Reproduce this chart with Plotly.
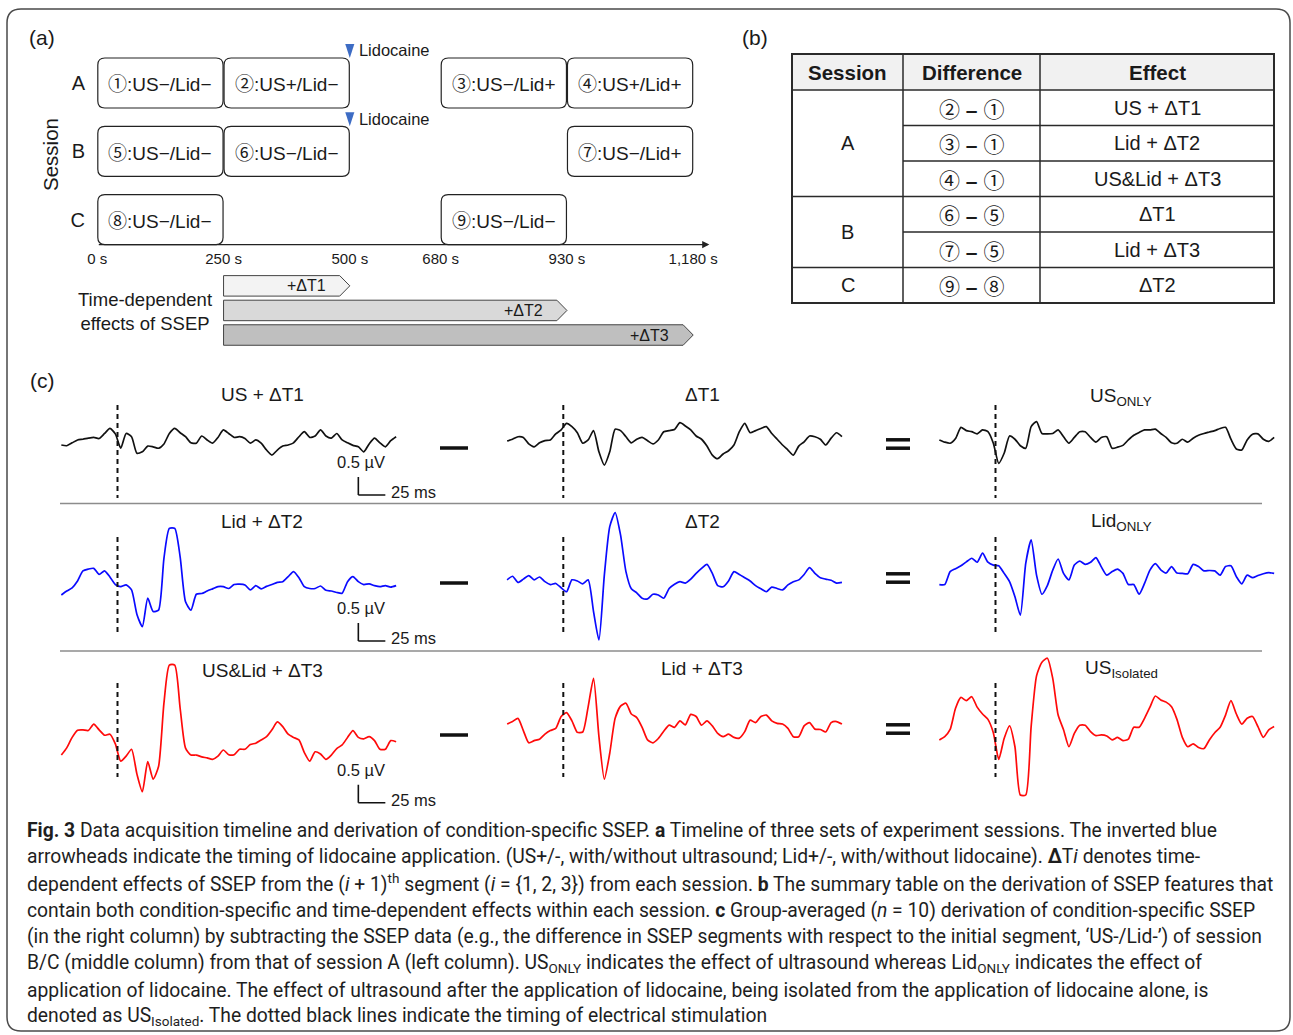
import numpy as np
import plotly.graph_objects as go

W, H = 1293, 1035
FONT = "Liberation Sans, Arial, DejaVu Sans, sans-serif"
CJK = "Noto Sans CJK JP"
CAPTION_FONT = "Roboto, Noto Sans, sans-serif"

# ---------------- (a) acquisition timeline ----------------
SESSIONS = ["A", "B", "C"]
SEG_SESSION = ["A", "A", "A", "A", "B", "B", "B", "C", "C"]
SEG_NUM = ["①", "②", "③", "④", "⑤", "⑥", "⑦", "⑧", "⑨"]
SEG_COND = ["US−/Lid−", "US+/Lid−", "US−/Lid+", "US+/Lid+",
            "US−/Lid−", "US−/Lid−", "US−/Lid+",
            "US−/Lid−", "US−/Lid−"]
SEG_START = [0, 250, 680, 930, 0, 250, 930, 0, 680]
SEG_END = [250, 500, 930, 1180, 250, 500, 1180, 250, 930]
TIME_TICKS = [0, 250, 500, 680, 930, 1180]
TIME_TICK_TEXT = ["0 s", "250 s", "500 s", "680 s", "930 s", "1,180 s"]
LIDOCAINE_T = 500
LIDOCAINE_SESSIONS = ["A", "B"]
DRIFT_LABEL = ["+ΔT1", "+ΔT2", "+ΔT3"]
DRIFT_START = 250
DRIFT_END = [500, 930, 1180]
DRIFT_FILL = ["#f3f3f3", "#d9d9d9", "#bfbfbf"]

# ---------------- (b) summary table ----------------
TABLE_HEADER = ["Session", "Difference", "Effect"]
TABLE_SESSION = ["A", "A", "A", "B", "B", "C"]
TABLE_DIFF = [("②", "①"), ("③", "①"), ("④", "①"), ("⑥", "⑤"), ("⑦", "⑤"), ("⑨", "⑧")]
TABLE_EFFECT = ["US + ΔT1", "Lid + ΔT2", "US&amp;Lid + ΔT3", "ΔT1", "Lid + ΔT3", "ΔT2"]

# ---------------- (c) group-averaged SSEP (µV), -52 .. 258 ms ----------------
T_START, T_END = -52, 258
US_DT1 = [0.00, -0.02, 0.06, 0.14, 0.16, 0.19, 0.21, 0.18, 0.32, 0.46,
          0.31, -0.09, 0.32, 0.23, -0.23, -0.19, -0.03, -0.05, -0.09, 0.03,
          0.32, 0.46, 0.34, 0.23, 0.06, 0.05, 0.25, 0.14, 0.05, 0.21,
          0.42, 0.32, 0.21, 0.23, 0.18, 0.05, 0.14, 0.05, -0.14, -0.28,
          -0.14, -0.03, 0.00, 0.06, 0.23, 0.37, 0.21, 0.25, 0.42, 0.25,
          0.19, 0.32, 0.14, 0.06, -0.01, -0.05, -0.19, 0.03, 0.19, 0.06,
          -0.05, 0.12, 0.23]
DT1 = [0.11, 0.16, 0.23, 0.21, 0.03, -0.05, 0.06, 0.12, 0.14, 0.31,
       0.42, 0.60, 0.51, 0.34, 0.05, 0.14, 0.40, -0.19, -0.56, -0.19,
       0.44, 0.40, 0.23, 0.06, 0.16, 0.21, 0.12, 0.03, 0.14, 0.37,
       0.40, 0.43, 0.62, 0.53, 0.42, 0.25, 0.16, -0.03, -0.28, -0.38,
       -0.25, -0.16, 0.00, 0.37, 0.60, 0.34, 0.40, 0.46, 0.51, 0.32,
       0.16, 0.00, -0.14, -0.28, -0.03, 0.09, 0.25, 0.23, 0.16, 0.00,
       0.19, 0.34, 0.23]
US_ONLY = [0.14, 0.08, 0.05, 0.18, 0.49, 0.40, 0.37, 0.31, 0.42, 0.37,
           0.05, -0.51, -0.23, 0.25, 0.16, -0.02, -0.09, 0.51, 0.65, 0.32,
           0.31, 0.32, 0.42, 0.23, 0.05, 0.21, 0.37, 0.37, 0.21, 0.08,
           0.21, 0.23, -0.09, -0.06, -0.01, 0.14, 0.27, 0.35, 0.42, 0.42,
           0.44, 0.32, 0.21, 0.06, 0.05, 0.16, 0.08, 0.19, 0.27, 0.32,
           0.36, 0.40, 0.46, 0.49, 0.16, -0.11, -0.14, 0.14, 0.30, 0.31,
           0.16, 0.10, 0.21]
LID_DT2 = [-0.23, -0.12, -0.03, 0.16, 0.44, 0.49, 0.51, 0.34, 0.44, 0.27,
           0.06, 0.00, 0.05, -0.09, -0.77, -1.11, -0.32, -0.69, -0.65, 0.79,
           1.62, 1.62, 0.83, -0.42, -0.65, -0.21, -0.19, -0.12, -0.06, 0.00,
           0.00, -0.05, 0.06, 0.07, 0.05, -0.09, 0.03, -0.06, 0.01, 0.06,
           0.12, 0.14, 0.28, 0.42, 0.25, 0.00, -0.05, -0.05, 0.02, -0.10,
           -0.12, -0.16, -0.18, 0.14, 0.28, 0.14, 0.06, 0.08, 0.03, 0.00,
           0.03, -0.01, 0.03]
DT2 = [0.19, 0.29, 0.12, 0.21, 0.31, 0.19, 0.27, 0.14, 0.06, 0.09,
       -0.03, -0.14, 0.19, 0.16, 0.08, 0.19, -0.69, -1.48, 0.32, 1.67,
       2.06, 1.44, 0.42, -0.06, -0.17, -0.32, -0.34, -0.21, -0.23, -0.32,
       -0.05, 0.07, 0.14, 0.10, 0.21, 0.37, 0.51, 0.62, 0.37, 0.03,
       0.00, 0.16, 0.42, 0.34, 0.25, 0.16, 0.03, -0.06, -0.14, -0.01,
       -0.05, -0.09, 0.05, 0.14, 0.19, 0.34, 0.53, 0.37, 0.25, 0.21,
       0.18, 0.10, 0.12]
LID_ONLY = [0.06, 0.06, 0.42, 0.50, 0.58, 0.69, 0.79, 0.68, 0.93, 0.68,
            0.60, 0.58, 0.37, 0.14, -0.28, -0.79, 0.65, 1.30, 0.32, -0.21,
            0.03, 0.46, 0.77, 0.37, 0.19, 0.60, 0.71, 0.62, 0.68, 0.81,
            0.55, 0.32, 0.42, 0.49, 0.37, 0.06, 0.06, -0.21, 0.09, 0.46,
            0.64, 0.47, 0.38, 0.56, 0.38, 0.37, 0.36, 0.62, 0.56, 0.44,
            0.45, 0.44, 0.32, 0.56, 0.58, 0.28, 0.08, 0.32, 0.25, 0.31,
            0.36, 0.39, 0.37]
USLID_DT3 = [-0.14, 0.06, 0.35, 0.55, 0.56, 0.54, 0.72, 0.56, 0.41, 0.44,
             0.17, -0.31, -0.17, 0.02, -0.67, -1.16, -0.32, -0.81, -0.46, 1.30,
             2.36, 2.36, 1.16, 0.05, -0.14, -0.14, -0.19, -0.22, -0.26, -0.17,
             0.00, -0.13, -0.13, 0.02, 0.02, 0.15, 0.19, 0.28, 0.37, 0.56,
             0.78, 0.65, 0.44, 0.35, 0.28, -0.07, -0.31, -0.05, -0.11, -0.26,
             -0.14, 0.04, 0.14, 0.35, 0.54, 0.35, 0.31, 0.37, 0.26, 0.02,
             0.02, 0.26, 0.23]
LID_DT3 = [0.72, 0.79, 0.88, 0.54, 0.20, 0.26, 0.30, 0.44, 0.54, 0.60,
           0.93, 1.04, 0.81, 0.49, 0.50, 1.20, 1.99, 0.37, -0.81, -0.09,
           0.88, 1.22, 1.30, 1.00, 0.90, 0.63, 0.28, 0.20, 0.32, 0.52,
           0.69, 0.63, 0.81, 0.70, 0.99, 0.93, 0.69, 0.81, 0.67, 0.46,
           0.37, 0.44, 0.35, 0.33, 0.51, 0.83, 0.76, 0.93, 0.97, 0.81,
           0.74, 0.72, 0.60, 0.37, 0.37, 0.67, 0.76, 0.58, 0.57, 0.50,
           0.76, 0.79, 0.72]
US_ISOLATED = [0.28, 0.37, 0.57, 1.16, 1.46, 1.37, 1.48, 1.19, 1.00, 0.85,
               0.48, -0.26, 0.32, 0.67, 0.09, -1.25, -1.25, 0.65, 2.06, 2.44,
               2.55, 1.99, 0.97, 0.56, 0.09, 0.46, 0.69, 0.69, 0.51, 0.40,
               0.42, 0.39, 0.28, 0.35, 0.26, 0.30, 0.63, 0.63, 0.88, 1.19,
               1.50, 1.39, 1.33, 1.20, 0.85, 0.35, 0.09, 0.17, 0.07, 0.04,
               0.28, 0.48, 0.63, 0.97, 1.37, 1.00, 0.72, 0.88, 0.93, 0.65,
               0.35, 0.56, 0.65]

WAVES = [[US_DT1, DT1, US_ONLY],
         [LID_DT2, DT2, LID_ONLY],
         [USLID_DT3, LID_DT3, US_ISOLATED]]
WAVE_TITLES = [["US + ΔT1", "ΔT1", "US<sub>ONLY</sub>"],
               ["Lid + ΔT2", "ΔT2", "Lid<sub>ONLY</sub>"],
               ["US&amp;Lid + ΔT3", "Lid + ΔT3", "US<sub>Isolated</sub>"]]
ROW_COLOR = ["#111111", "#0a0aff", "#ff0a0a"]
SCALE_UV = 0.5
SCALE_MS = 25

CAPTION = [
    "<b>Fig. 3</b> Data acquisition timeline and derivation of condition-specific SSEP. <b>a</b> Timeline of three sets of experiment sessions. The inverted blue",
    "arrowheads indicate the timing of lidocaine application. (US+/-, with/without ultrasound; Lid+/-, with/without lidocaine). <b>Δ</b>T<i>i</i> denotes time-",
    "dependent effects of SSEP from the (<i>i</i> + 1)<sup>th</sup> segment (<i>i</i> = {1, 2, 3}) from each session. <b>b</b> The summary table on the derivation of SSEP features that",
    "contain both condition-specific and time-dependent effects within each session. <b>c</b> Group-averaged (<i>n</i> = 10) derivation of condition-specific SSEP",
    "(in the right column) by subtracting the SSEP data (e.g., the difference in SSEP segments with respect to the initial segment, ‘US-/Lid-’) of session",
    "B/C (middle column) from that of session A (left column). US<sub>ONLY</sub> indicates the effect of ultrasound whereas Lid<sub>ONLY</sub> indicates the effect of",
    "application of lidocaine. The effect of ultrasound after the application of lidocaine, being isolated from the application of lidocaine alone, is",
    "denoted as US<sub>Isolated</sub>. The dotted black lines indicate the timing of electrical stimulation",
]


# ---------------- helpers ----------------
def px(x):
    return x / W


def py(y):
    return 1 - y / H


def circled(ch, size):
    return f'<span style="font-family:{CJK};font-size:{size}px">{ch}</span>'


def rounded_path(x0, y0, x1, y1, rx, ry):
    return (f"M {x0 + rx},{y0} L {x1 - rx},{y0} Q {x1},{y0} {x1},{y0 + ry} "
            f"L {x1},{y1 - ry} Q {x1},{y1} {x1 - rx},{y1} L {x0 + rx},{y1} "
            f"Q {x0},{y1} {x0},{y1 - ry} L {x0},{y0 + ry} Q {x0},{y0} {x0 + rx},{y0} Z")


fig = go.Figure()
layout = {}
shapes = []
annotations = []


def text(x, y, s, size=18, xanchor="center", yanchor="middle", family=FONT,
         color="#1a1a1a", **kw):
    annotations.append(dict(x=px(x), y=py(y), xref="paper", yref="paper", text=s,
                            showarrow=False, xanchor=xanchor, yanchor=yanchor,
                            font=dict(family=family, size=size, color=color), **kw))


# outer frame
shapes.append(dict(type="path", xref="paper", yref="paper",
                   path=rounded_path(px(7), py(9), px(1290), py(1031), px(14), -14 / H),
                   line=dict(color="#4a4a4a", width=1.5)))

# panel letters
text(42, 37, "(a)", size=21)
text(755, 37, "(b)", size=21)
text(42, 380, "(c)", size=21)

# ---------------- (a) timeline axes ----------------
S0_PX, S_PX = 97.3, 0.505          # pixel of 0 s, pixels per second
ROW0_PX, ROW_PX = 83.0, 68.3       # pixel of session A row, pixels per row
X10_RANGE = [-100, 1280]
Y10_TOP, Y10_BOT = 40, 350
layout["xaxis10"] = dict(domain=[px(S0_PX + S_PX * X10_RANGE[0]), px(S0_PX + S_PX * X10_RANGE[1])],
                         range=X10_RANGE, anchor="free", position=py(248),
                         tickvals=TIME_TICKS, ticktext=TIME_TICK_TEXT, ticks="",
                         tickfont=dict(family=FONT, size=15, color="#1a1a1a"),
                         showgrid=False, zeroline=False, showline=False, fixedrange=True)
layout["yaxis10"] = dict(domain=[py(Y10_BOT), py(Y10_TOP)],
                         range=[(Y10_BOT - ROW0_PX) / ROW_PX, (Y10_TOP - ROW0_PX) / ROW_PX],
                         anchor="free", position=px(85),
                         tickvals=list(range(len(SESSIONS))), ticktext=SESSIONS, ticks="",
                         tickfont=dict(family=FONT, size=20, color="#1a1a1a"),
                         showgrid=False, zeroline=False, showline=False, fixedrange=True)

BOX_HALF = 25 / ROW_PX
RX, RY = 7 / S_PX, 7 / ROW_PX
for ses, num, cond, s0, s1 in zip(SEG_SESSION, SEG_NUM, SEG_COND, SEG_START, SEG_END):
    r = SESSIONS.index(ses)
    shapes.append(dict(type="path", xref="x10", yref="y10",
                       path=rounded_path(s0 + 1, r - BOX_HALF, s1 - 1, r + BOX_HALF, RX, RY),
                       line=dict(color="#222222", width=1.2), fillcolor="white"))
    annotations.append(dict(x=(s0 + s1) / 2, y=r, xref="x10", yref="y10",
                            text=circled(num, 19) + ":" + cond,
                            showarrow=False, font=dict(family=FONT, size=19, color="#1a1a1a")))

# time axis with arrowhead
annotations.append(dict(x=1212, y=2 + BOX_HALF, xref="x10", yref="y10",
                        ax=0, ay=2 + BOX_HALF, axref="x10", ayref="y10", text="",
                        showarrow=True, arrowhead=2, arrowsize=1.1, arrowwidth=1.3,
                        arrowcolor="#222222"))

# lidocaine arrowheads
lido_rows = [SESSIONS.index(s) for s in LIDOCAINE_SESSIONS]
for r in lido_rows:
    tip = r - BOX_HALF
    shapes.append(dict(type="path", xref="x10", yref="y10",
                       path=f"M {LIDOCAINE_T - 9},{tip - 14 / ROW_PX} L {LIDOCAINE_T + 9},{tip - 14 / ROW_PX} L {LIDOCAINE_T},{tip} Z",
                       line=dict(width=0), fillcolor="#3d6cc4"))
fig.add_trace(go.Scatter(x=[LIDOCAINE_T + 18] * len(lido_rows), y=[r - 0.45 for r in lido_rows],
                         mode="text", text=["Lidocaine"] * len(lido_rows),
                         textposition="middle right",
                         textfont=dict(family=FONT, size=16.5, color="#1a1a1a"),
                         xaxis="x10", yaxis="y10", hoverinfo="skip", showlegend=False))

# time-dependent drift bars
DRIFT_Y0, DRIFT_DY, DRIFT_HALF = 2.97, 0.36, 0.15
for i, (lab, end, fill) in enumerate(zip(DRIFT_LABEL, DRIFT_END, DRIFT_FILL)):
    yc = DRIFT_Y0 + DRIFT_DY * i
    tip = 20
    shapes.append(dict(type="path", xref="x10", yref="y10",
                       path=(f"M {DRIFT_START},{yc - DRIFT_HALF} L {end - tip},{yc - DRIFT_HALF} "
                             f"L {end},{yc} L {end - tip},{yc + DRIFT_HALF} L {DRIFT_START},{yc + DRIFT_HALF} Z"),
                       line=dict(color="#444444", width=1), fillcolor=fill))
    annotations.append(dict(x=end - 44, y=yc, xref="x10", yref="y10", text=lab,
                            xanchor="right", showarrow=False,
                            font=dict(family=FONT, size=16, color="#1a1a1a")))

text(50, 155, "Session", size=20.5, textangle=-90)
text(145, 311, "Time-dependent<br>effects of SSEP", size=18.5, align="center")

# ---------------- (b) table ----------------
COL_X = [792, 903, 1040, 1274]
HEAD_TOP, HEAD_H, ROW_H = 54, 36, 35.5
n_rows = len(TABLE_SESSION)
tab_bot = HEAD_TOP + HEAD_H + ROW_H * n_rows
shapes.append(dict(type="rect", xref="paper", yref="paper", x0=px(COL_X[0]), x1=px(COL_X[-1]),
                   y0=py(HEAD_TOP), y1=py(HEAD_TOP + HEAD_H), fillcolor="#f1f1f1",
                   line=dict(width=0), layer="below"))
for i, h in enumerate(TABLE_HEADER):
    text((COL_X[i] + COL_X[i + 1]) / 2, HEAD_TOP + HEAD_H / 2, f"<b>{h}</b>", size=20.5)


def hline(x0, x1, y, w=1.5):
    shapes.append(dict(type="line", xref="paper", yref="paper", x0=px(x0), x1=px(x1),
                       y0=py(y), y1=py(y), line=dict(color="#2a2a2a", width=w)))


def vline(x, y0, y1, w=1.5):
    shapes.append(dict(type="line", xref="paper", yref="paper", x0=px(x), x1=px(x),
                       y0=py(y0), y1=py(y1), line=dict(color="#2a2a2a", width=w)))


hline(COL_X[0], COL_X[-1], HEAD_TOP + HEAD_H)
for i in range(n_rows):
    yc = HEAD_TOP + HEAD_H + ROW_H * (i + 0.5)
    a, b = TABLE_DIFF[i]
    text((COL_X[1] + COL_X[2]) / 2, yc, f"{circled(a, 21)} <b>–</b> {circled(b, 21)}", size=21)
    text((COL_X[2] + COL_X[3]) / 2, yc, TABLE_EFFECT[i], size=20)
    if i < n_rows - 1:
        yb = HEAD_TOP + HEAD_H + ROW_H * (i + 1)
        same = TABLE_SESSION[i] == TABLE_SESSION[i + 1]
        hline(COL_X[1] if same else COL_X[0], COL_X[-1], yb)
# merged session cells
start = 0
for i in range(1, n_rows + 1):
    if i == n_rows or TABLE_SESSION[i] != TABLE_SESSION[start]:
        y0 = HEAD_TOP + HEAD_H + ROW_H * start
        y1 = HEAD_TOP + HEAD_H + ROW_H * i
        text((COL_X[0] + COL_X[1]) / 2, (y0 + y1) / 2, TABLE_SESSION[start], size=20)
        start = i
for x in COL_X[1:-1]:
    vline(x, HEAD_TOP, tab_bot)
shapes.append(dict(type="rect", xref="paper", yref="paper", x0=px(COL_X[0]), x1=px(COL_X[-1]),
                   y0=py(HEAD_TOP), y1=py(tab_bot), line=dict(color="#2a2a2a", width=2)))

# ---------------- (c) SSEP waveforms ----------------
COL_STIM_PX = [117.5, 563.3, 995.5]
COL_TITLE_PX = [262, 702, 1121]
ROW_ZERO_PX = [445.0, 586.7, 750.0]
ROW_SPAN_PX = [(372, 512), (503, 652), (648, 812)]
STIM_SPAN_PX = [(405, 498), (537, 632), (683, 777)]
MS_PX, UV_PX = 1.08, 36.0
T_RANGE = [-60, 270]
TITLE_Y = [[395, 395, 397], [521, 521, 522], [670, 668, 669]]
SCALE_CORNER_PX = [495, 641, 802.7]

for r in range(3):
    top, bot = ROW_SPAN_PX[r]
    z = ROW_ZERO_PX[r]
    for c in range(3):
        n = r * 3 + c + 1
        sfx = "" if n == 1 else str(n)
        stim = COL_STIM_PX[c]
        v = WAVES[r][c]
        t = np.linspace(T_START, T_END, len(v))
        fig.add_trace(go.Scatter(x=t, y=v, mode="lines",
                                 line=dict(color=ROW_COLOR[r], width=1.7, shape="spline", smoothing=0.6),
                                 xaxis="x" + sfx, yaxis="y" + sfx, hoverinfo="skip", showlegend=False))
        layout["xaxis" + sfx] = dict(domain=[px(stim + T_RANGE[0] * MS_PX), px(stim + T_RANGE[1] * MS_PX)],
                                     range=T_RANGE, visible=False, anchor="y" + sfx, fixedrange=True)
        layout["yaxis" + sfx] = dict(domain=[py(bot), py(top)], range=[(z - bot) / UV_PX, (z - top) / UV_PX],
                                     visible=False, anchor="x" + sfx, fixedrange=True)
        # stimulation onset
        shapes.append(dict(type="line", xref="x" + sfx, yref="paper", x0=0, x1=0,
                           y0=py(STIM_SPAN_PX[r][0]), y1=py(STIM_SPAN_PX[r][1]),
                           line=dict(color="#111111", width=2, dash="5px,4px")))
        text(COL_TITLE_PX[c], TITLE_Y[r][c], WAVE_TITLES[r][c], size=19)
        if c == 0:
            v0 = (z - SCALE_CORNER_PX[r]) / UV_PX
            t0 = 223
            shapes.append(dict(type="line", xref="x" + sfx, yref="y" + sfx, x0=t0, x1=t0 + SCALE_MS,
                               y0=v0, y1=v0, line=dict(color="#111111", width=1.6)))
            shapes.append(dict(type="line", xref="x" + sfx, yref="y" + sfx, x0=t0, x1=t0,
                               y0=v0, y1=v0 + SCALE_UV, line=dict(color="#111111", width=1.6)))
            ypx = SCALE_CORNER_PX[r]
            text(361, ypx - 33, f"{SCALE_UV} µV", size=16.5)
            text(389, ypx - 3, f"{SCALE_MS} ms", size=16.5, xanchor="left")

# operators between columns
MINUS_Y = [448, 583, 735]
EQ_Y = [444, 578, 729]
for r in range(3):
    hline_kw = dict(type="line", xref="paper", yref="paper", line=dict(color="#111111", width=3.5))
    shapes.append(dict(hline_kw, x0=px(440), x1=px(468), y0=py(MINUS_Y[r]), y1=py(MINUS_Y[r])))
    for d in (-4.2, 4.2):
        shapes.append(dict(hline_kw, x0=px(886), x1=px(910), y0=py(EQ_Y[r] + d), y1=py(EQ_Y[r] + d)))

# row separators
for y in (503.5, 651):
    shapes.append(dict(type="line", xref="paper", yref="paper", x0=px(60), x1=px(1262),
                       y0=py(y), y1=py(y), line=dict(color="#8c8c8c", width=1.5)))

# ---------------- caption ----------------
for i, line in enumerate(CAPTION):
    text(25, 830 + 26.7 * i, line, size=19.3, xanchor="left", family=CAPTION_FONT, color="#1e1e1e")

fig.update_layout(width=W, height=H, margin=dict(l=0, r=0, t=0, b=0),
                  paper_bgcolor="white", plot_bgcolor="rgba(0,0,0,0)",
                  showlegend=False, shapes=shapes, annotations=annotations,
                  font=dict(family=FONT), **layout)
fig.write_html("out.html")
